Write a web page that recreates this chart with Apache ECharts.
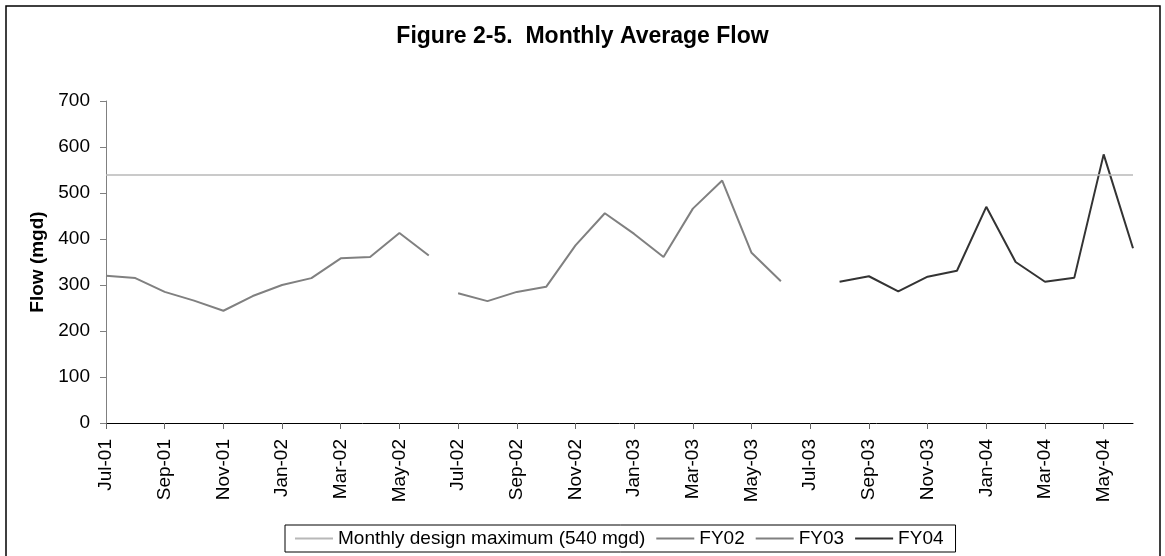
<!DOCTYPE html>
<html>
<head>
<meta charset="utf-8">
<script src="https://cdn.jsdelivr.net/npm/echarts@6/dist/echarts.min.js"></script>
<style>
  html, body { margin: 0; padding: 0; background: #fff; }
  #chart-panel { width: 1165px; height: 556px; }
</style>
</head>
<body>
<div id="chart-panel"></div>
<script>
var months = [
    'Jul-01', 'Aug-01', 'Sep-01', 'Oct-01', 'Nov-01', 'Dec-01',
    'Jan-02', 'Feb-02', 'Mar-02', 'Apr-02', 'May-02', 'Jun-02',
    'Jul-02', 'Aug-02', 'Sep-02', 'Oct-02', 'Nov-02', 'Dec-02',
    'Jan-03', 'Feb-03', 'Mar-03', 'Apr-03', 'May-03', 'Jun-03',
    'Jul-03', 'Aug-03', 'Sep-03', 'Oct-03', 'Nov-03', 'Dec-03',
    'Jan-04', 'Feb-04', 'Mar-04', 'Apr-04', 'May-04', 'Jun-04'
];

var designMax = 540;

// one value per month, null outside the fiscal year
var fy02 = [320, 315, 285, 266, 244, 276, 300, 315, 358, 361, 413, 364,
    null, null, null, null, null, null, null, null, null, null, null, null,
    null, null, null, null, null, null, null, null, null, null, null, null];

var fy03 = [null, null, null, null, null, null, null, null, null, null, null, null,
    282, 265, 285, 296, 386, 456, 411, 361, 466, 527, 370, 308,
    null, null, null, null, null, null, null, null, null, null, null, null];

var fy04 = [null, null, null, null, null, null, null, null, null, null, null, null,
    null, null, null, null, null, null, null, null, null, null, null, null,
    null, 307, 319, 286, 318, 331, 470, 350, 307, 316, 584, 380];

var yTicks = { min: 0, max: 700, interval: 100 };

var font = 'Liberation Sans, Arial, sans-serif';
var myChart = echarts.init(document.getElementById('chart-panel'));

myChart.setOption({
    backgroundColor: '#fff',
    animation: false,
    title: {
        text: 'Figure 2-5.  Monthly Average Flow',
        left: 'center',
        top: 20,
        textStyle: { fontFamily: font, fontSize: 23, fontWeight: 'bold', color: '#000' }
    },
    graphic: [{
        type: 'rect',
        shape: { x: 6, y: 6, width: 1154, height: 556 },
        style: { fill: 'none', stroke: '#000', lineWidth: 1.5 },
        silent: true
    }],
    legend: {
        bottom: 4,
        left: 285,
        padding: [4, 12, 4, 10],
        borderColor: '#000',
        borderWidth: 1,
        icon: 'rect',
        itemWidth: 38,
        itemHeight: 2,
        itemGap: 11,
        textStyle: { fontFamily: font, fontSize: 19, color: '#000' },
        data: ['Monthly design maximum (540 mgd)', 'FY02', 'FY03', 'FY04']
    },
    grid: {
        left: 106,
        right: 32,
        top: 101,
        bottom: 133,
        containLabel: false,
        outerBoundsMode: 'none'
    },
    xAxis: {
        type: 'category',
        data: months,
        boundaryGap: false,
        axisLine: { lineStyle: { color: '#000', width: 1 } },
        axisTick: { interval: 1, length: 6, lineStyle: { color: '#666' } },
        axisLabel: {
            interval: 1,
            rotate: 90,
            margin: 16,
            fontFamily: font,
            fontSize: 19,
            color: '#000'
        },
        splitLine: { show: false }
    },
    yAxis: {
        type: 'value',
        min: yTicks.min,
        max: yTicks.max,
        interval: yTicks.interval,
        name: 'Flow (mgd)',
        nameLocation: 'middle',
        nameGap: 55,
        nameTextStyle: { fontFamily: font, fontSize: 19, fontWeight: 'bold', color: '#000' },
        axisLine: { show: true, lineStyle: { color: '#808080', width: 1 } },
        axisTick: { show: true, length: 6, lineStyle: { color: '#808080' } },
        axisLabel: { margin: 16, fontFamily: font, fontSize: 19, color: '#000' },
        splitLine: { show: false }
    },
    series: [
        {
            name: 'Monthly design maximum (540 mgd)',
            type: 'line',
            data: [],
            symbol: 'none',
            itemStyle: { color: '#b8b8b8' },
            lineStyle: { color: '#b8b8b8', width: 1.5 },
            markLine: {
                silent: true,
                symbol: 'none',
                label: { show: false },
                lineStyle: { color: '#b8b8b8', width: 1.5, type: 'solid' },
                data: [{ yAxis: designMax }]
            }
        },
        {
            name: 'FY02',
            type: 'line',
            data: fy02,
            symbol: 'none',
            itemStyle: { color: '#808080' },
            lineStyle: { color: '#808080', width: 2 }
        },
        {
            name: 'FY03',
            type: 'line',
            data: fy03,
            symbol: 'none',
            itemStyle: { color: '#808080' },
            lineStyle: { color: '#808080', width: 2 }
        },
        {
            name: 'FY04',
            type: 'line',
            data: fy04,
            symbol: 'none',
            itemStyle: { color: '#333' },
            lineStyle: { color: '#333', width: 2 }
        }
    ]
});
</script>
</body>
</html>
